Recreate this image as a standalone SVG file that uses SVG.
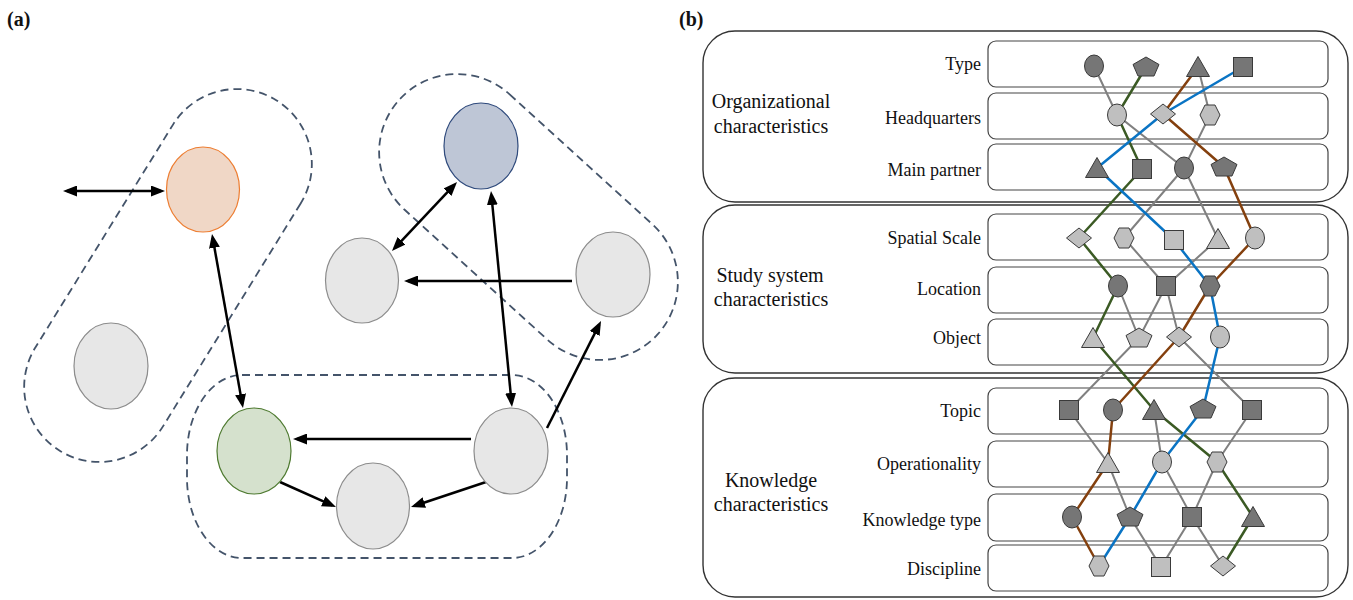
<svg xmlns="http://www.w3.org/2000/svg" width="1353" height="600" viewBox="0 0 1353 600">
<style>
.lbl{font-family:"Liberation Serif","Times New Roman",serif;font-size:18px;fill:#111;text-anchor:end}
.grp{font-family:"Liberation Serif","Times New Roman",serif;font-size:20px;fill:#111;text-anchor:middle}
.pl{font-family:"Liberation Serif","Times New Roman",serif;font-size:20px;font-weight:bold;fill:#111}
.dash{fill:none;stroke:#44546A;stroke-width:1.8;stroke-dasharray:8 5}
.arr{stroke:#000;stroke-width:2.5;fill:none}
.gray{fill:#E7E7E7;stroke:#8C8C8C;stroke-width:1.2}
.outer{fill:none;stroke:#333;stroke-width:1.4}
.row{fill:#fff;stroke:#444;stroke-width:1.2}
.dk{fill:#767676;stroke:#3A3A3A;stroke-width:1}
.lt{fill:#BFBFBF;stroke:#3A3A3A;stroke-width:1}
.gl{stroke:#808080;stroke-width:2;fill:none}
.green{stroke:#3B5A24;stroke-width:2.5;fill:none;stroke-linejoin:round}
.blue{stroke:#0A74C4;stroke-width:2.5;fill:none;stroke-linejoin:round}
.brown{stroke:#84400E;stroke-width:2.5;fill:none;stroke-linejoin:round}
</style>
<defs>
<marker id="ah" markerUnits="userSpaceOnUse" markerWidth="14" markerHeight="11" refX="10" refY="5.5" orient="auto-start-reverse">
<path d="M0,0 L14,5.5 L0,11 z" fill="#000"/>
</marker>
<ellipse id="cir" cx="0" cy="0" rx="9.5" ry="11"/>
<rect id="sq" x="-9.5" y="-9.5" width="19" height="19"/>
<polygon id="tri" points="0,-10.5 11.5,9.5 -11.5,9.5"/>
<polygon id="pent" points="0,-10 13,-2.5 8,9 -8,9 -13,-2.5"/>
<polygon id="dia" points="0,-10 12.5,0 0,10 -12.5,0"/>
<polygon id="hex" points="-10,0 -5,-10 5,-10 10,0 5,10 -5,10"/>
</defs>
<rect width="1353" height="600" fill="#fff"/>

<!-- Panel (a) -->
<text class="pl" x="7" y="26">(a)</text>
<text class="pl" x="679" y="26">(b)</text>

<g id="groups-a">
<rect class="dash" x="-206" y="-75" width="412" height="150" rx="75" ry="75" transform="translate(168,275.5) rotate(121.7)"/>
<rect class="dash" x="-174.5" y="-78" width="349" height="156" rx="78" ry="78" transform="translate(528.5,217) rotate(42.3)"/>
<rect class="dash" x="187" y="375" width="380" height="183" rx="55" ry="80"/>
</g>

<g id="connectors-a">
<line class="arr" x1="67" y1="191" x2="161" y2="191" marker-start="url(#ah)" marker-end="url(#ah)"/>
<line class="arr" x1="212.7" y1="237.9" x2="242.3" y2="404.1" marker-start="url(#ah)" marker-end="url(#ah)"/>
<line class="arr" x1="454.3" y1="184.9" x2="394.7" y2="248.1" marker-start="url(#ah)" marker-end="url(#ah)"/>
<line class="arr" x1="572" y1="281" x2="408" y2="281" marker-end="url(#ah)"/>
<line class="arr" x1="491.4" y1="195" x2="511.6" y2="403" marker-start="url(#ah)" marker-end="url(#ah)"/>
<line class="arr" x1="547" y1="428" x2="599.2" y2="324.6" marker-end="url(#ah)"/>
<line class="arr" x1="471" y1="439" x2="297" y2="439" marker-end="url(#ah)"/>
<line class="arr" x1="280" y1="482" x2="332.3" y2="505.4" marker-end="url(#ah)"/>
<line class="arr" x1="486" y1="482" x2="414.8" y2="505.7" marker-end="url(#ah)"/>
</g>

<g id="node-orange"><ellipse cx="203" cy="189.5" rx="36.5" ry="42.5" fill="#F0D7C6" stroke="#ED7D31" stroke-width="1.2"/></g>
<g id="node-gray-left"><ellipse cx="111" cy="366" rx="37" ry="43" class="gray"/></g>
<g id="node-blue"><ellipse cx="481" cy="146" rx="37" ry="43" fill="#BEC6D6" stroke="#2F4A7C" stroke-width="1.2"/></g>
<g id="node-gray-mid"><ellipse cx="362" cy="280.5" rx="36.5" ry="42.5" class="gray"/></g>
<g id="node-gray-right"><ellipse cx="613" cy="274.5" rx="37" ry="42.5" class="gray"/></g>
<g id="node-green"><ellipse cx="254" cy="451" rx="37" ry="43" fill="#D5E1CD" stroke="#4E7A30" stroke-width="1.2"/></g>
<g id="node-gray-bottom"><ellipse cx="373" cy="506" rx="36.5" ry="43" class="gray"/></g>
<g id="node-gray-br"><ellipse cx="511" cy="451" rx="37" ry="43" class="gray"/></g>

<!-- Panel (b) -->
<g id="boxes-b">
<rect class="outer" x="703" y="31" width="645" height="171" rx="32"/>
<rect class="outer" x="703" y="205" width="645" height="168" rx="32"/>
<rect class="outer" x="703" y="378" width="645" height="219" rx="32"/>
<text class="grp" x="771" y="108">Organizational</text>
<text class="grp" x="771" y="133">characteristics</text>
<text class="grp" x="770" y="282">Study system</text>
<text class="grp" x="771" y="306">characteristics</text>
<text class="grp" x="771" y="487">Knowledge</text>
<text class="grp" x="771" y="511">characteristics</text>

<rect class="row" x="988" y="41" width="340" height="46" rx="8"/>
<rect class="row" x="988" y="93" width="340" height="46" rx="8"/>
<rect class="row" x="988" y="144" width="340" height="46" rx="8"/>
<rect class="row" x="988" y="214" width="340" height="46" rx="8"/>
<rect class="row" x="988" y="267" width="340" height="46" rx="8"/>
<rect class="row" x="988" y="319" width="340" height="46" rx="8"/>
<rect class="row" x="988" y="388" width="340" height="46" rx="8"/>
<rect class="row" x="988" y="441" width="340" height="46" rx="8"/>
<rect class="row" x="988" y="494" width="340" height="47" rx="8"/>
<rect class="row" x="988" y="545" width="340" height="46" rx="8"/>

<text class="lbl" x="981" y="70">Type</text>
<text class="lbl" x="981" y="124">Headquarters</text>
<text class="lbl" x="981" y="176">Main partner</text>
<text class="lbl" x="981" y="244">Spatial Scale</text>
<text class="lbl" x="981" y="295">Location</text>
<text class="lbl" x="981" y="344">Object</text>
<text class="lbl" x="981" y="417">Topic</text>
<text class="lbl" x="981" y="470">Operationality</text>
<text class="lbl" x="981" y="526">Knowledge type</text>
<text class="lbl" x="981" y="575">Discipline</text>
</g>

<g id="connectors-b">
<path class="gl" d="M1094,66 L1117,115 L1184,168 M1198,67 L1210,115 L1184,168 M1184,168 L1124,238 M1184,168 L1218,239 M1124,238 L1166,286 L1218,239 M1118,286 L1139,338 L1166,286 L1179,337 M1139,338 L1069,410 M1179,337 L1252,410 M1069,410 L1108,463 L1130,517 M1154,410 L1162,462 L1192,517 L1217,462 L1252,410 M1130,517 L1161,567 L1192,517 L1223,566"/>
<polyline class="green" points="1146,67 1117,115 1142,169 1079,238 1118,286 1093,338 1154,410 1217,462 1253,517 1223,566"/>
<polyline class="blue" points="1243,67 1163,114 1097,168 1174,240 1210,286 1220,337 1203,409 1162,462 1130,517 1099,566"/>
<polyline class="brown" points="1198,67 1163,114 1224,167 1255,238 1210,286 1179,337 1113,410 1108,463 1072,517 1099,566"/>
</g>

<g id="nodes-type">
<use href="#cir" x="1094" y="66" class="dk"/>
<use href="#pent" x="1146" y="67" class="dk"/>
<use href="#tri" x="1198" y="67" class="dk"/>
<use href="#sq" x="1243" y="67" class="dk"/>
</g>
<g id="nodes-hq">
<use href="#cir" x="1117" y="115" class="lt"/>
<use href="#dia" x="1163" y="114" class="lt"/>
<use href="#hex" x="1210" y="115" class="lt"/>
</g>
<g id="nodes-mp">
<use href="#tri" x="1097" y="168" class="dk"/>
<use href="#sq" x="1142" y="169" class="dk"/>
<use href="#cir" x="1184" y="168" class="dk"/>
<use href="#pent" x="1224" y="167" class="dk"/>
</g>
<g id="nodes-ss">
<use href="#dia" x="1079" y="238" class="lt"/>
<use href="#hex" x="1124" y="238" class="lt"/>
<use href="#sq" x="1174" y="240" class="lt"/>
<use href="#tri" x="1218" y="239" class="lt"/>
<use href="#cir" x="1255" y="238" class="lt"/>
</g>
<g id="nodes-loc">
<use href="#cir" x="1118" y="286" class="dk"/>
<use href="#sq" x="1166" y="286" class="dk"/>
<use href="#hex" x="1210" y="286" class="dk"/>
</g>
<g id="nodes-obj">
<use href="#tri" x="1093" y="338" class="lt"/>
<use href="#pent" x="1139" y="338" class="lt"/>
<use href="#dia" x="1179" y="337" class="lt"/>
<use href="#cir" x="1220" y="337" class="lt"/>
</g>
<g id="nodes-topic">
<use href="#sq" x="1069" y="410" class="dk"/>
<use href="#cir" x="1113" y="410" class="dk"/>
<use href="#tri" x="1154" y="410" class="dk"/>
<use href="#pent" x="1203" y="409" class="dk"/>
<use href="#sq" x="1252" y="410" class="dk"/>
</g>
<g id="nodes-op">
<use href="#tri" x="1108" y="463" class="lt"/>
<use href="#cir" x="1162" y="462" class="lt"/>
<use href="#hex" x="1217" y="462" class="lt"/>
</g>
<g id="nodes-kt">
<use href="#cir" x="1072" y="517" class="dk"/>
<use href="#pent" x="1130" y="517" class="dk"/>
<use href="#sq" x="1192" y="517" class="dk"/>
<use href="#tri" x="1253" y="517" class="dk"/>
</g>
<g id="nodes-disc">
<use href="#hex" x="1099" y="566" class="lt"/>
<use href="#sq" x="1161" y="567" class="lt"/>
<use href="#dia" x="1223" y="566" class="lt"/>
</g>
</svg>
